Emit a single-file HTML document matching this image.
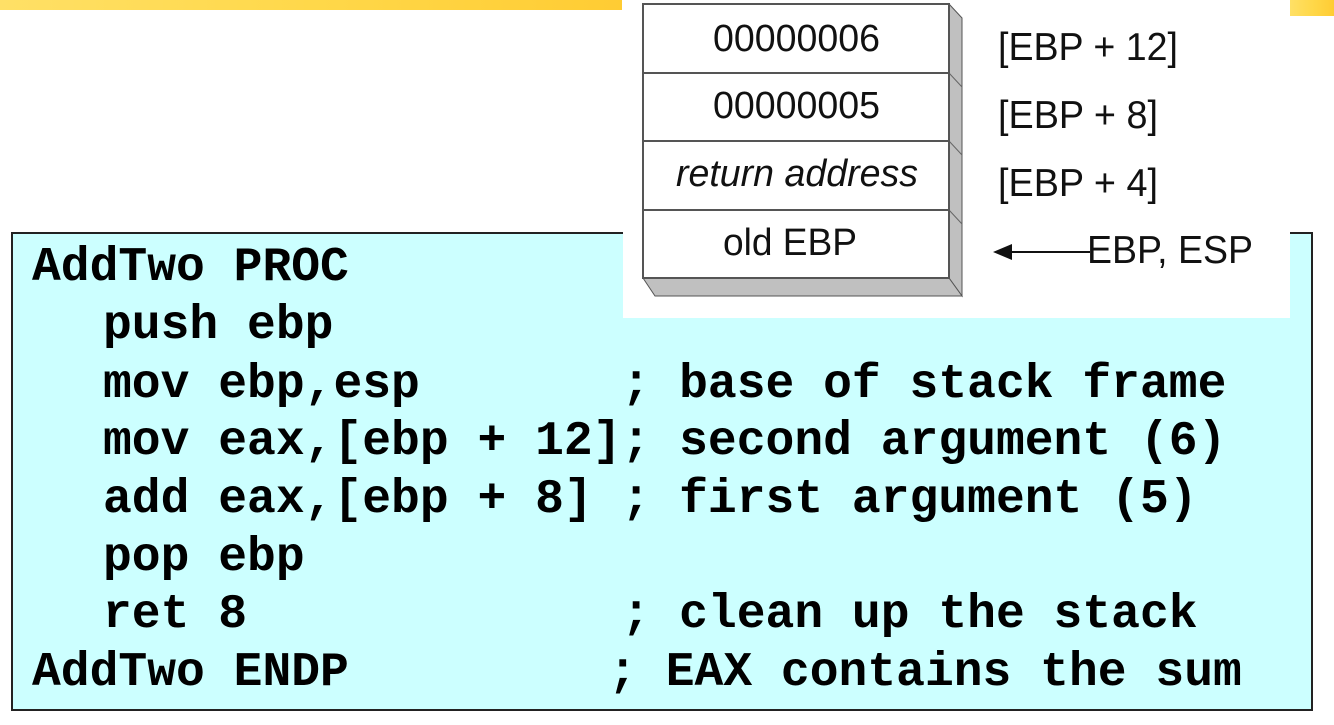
<!DOCTYPE html>
<html><head><meta charset="utf-8">
<style>
html,body{margin:0;padding:0;background:#fff;}
body{width:1334px;height:725px;position:relative;overflow:hidden;}
.ban{position:absolute;top:0;height:14px;background:linear-gradient(90deg,#ffe066,#ffd84a 50%,#ffcc33);}
#code{position:absolute;left:11px;top:232px;width:1302px;height:479px;background:#ccffff;border:2px solid #222;box-sizing:border-box;}
.l{position:absolute;font-family:"Liberation Mono",monospace;font-weight:bold;font-size:48px;line-height:48px;color:#000;white-space:pre;}
#panel{position:absolute;left:623px;top:0;width:667px;height:318px;background:#fff;}
</style></head><body>
<div class="ban" style="left:0;width:622px;height:10px"></div>
<div class="ban" style="left:1290px;width:44px;height:16px"></div>
<div id="code"></div>
<div class="l" style="left:32px;top:244px">AddTwo PROC</div>
<div class="l" style="left:103px;top:302px">push ebp</div>
<div class="l" style="left:103px;top:361px">mov ebp,esp       ; base of stack frame</div>
<div class="l" style="left:103px;top:418px">mov eax,[ebp + 12]; second argument (6)</div>
<div class="l" style="left:103px;top:476px">add eax,[ebp + 8] ; first argument (5)</div>
<div class="l" style="left:103px;top:534px">pop ebp</div>
<div class="l" style="left:103px;top:591px">ret 8             ; clean up the stack</div>
<div class="l" style="left:32px;top:649px">AddTwo ENDP         ; EAX contains the sum</div>
<div id="panel">
<svg width="667" height="318" viewBox="623 0 667 318" xmlns="http://www.w3.org/2000/svg" style="position:absolute;left:0;top:0">
<polygon points="949,4 962,18 962,296 949,278" fill="#c0c0c0" stroke="#555" stroke-width="1"/>
<polygon points="643,278 949,278 962,296 655,296" fill="#c0c0c0" stroke="#555" stroke-width="1"/>
<g stroke="#666" stroke-width="1"><line x1="949" y1="73" x2="962" y2="87"/><line x1="949" y1="141" x2="962" y2="155"/><line x1="949" y1="210" x2="962" y2="224"/></g>
<rect x="643" y="4" width="306" height="274" fill="#fff" stroke="#555" stroke-width="2"/>
<g stroke="#555" stroke-width="2"><line x1="643" y1="73" x2="949" y2="73"/><line x1="643" y1="141" x2="949" y2="141"/><line x1="643" y1="210" x2="949" y2="210"/></g>
<g font-family="Liberation Sans, sans-serif" font-size="38" fill="#111" lengthAdjust="spacingAndGlyphs">
<text x="713" y="51" textLength="167" lengthAdjust="spacingAndGlyphs">00000006</text>
<text x="713" y="118" textLength="167" lengthAdjust="spacingAndGlyphs">00000005</text>
<text x="676" y="186" font-style="italic" textLength="242" lengthAdjust="spacingAndGlyphs">return address</text>
<text x="723" y="255" textLength="134" lengthAdjust="spacingAndGlyphs">old EBP</text>
</g>
<g font-family="Liberation Sans, sans-serif" font-size="39" fill="#111">
<text x="998" y="60" textLength="180" lengthAdjust="spacingAndGlyphs">[EBP + 12]</text>
<text x="998" y="128" textLength="160" lengthAdjust="spacingAndGlyphs">[EBP + 8]</text>
<text x="998" y="196" textLength="160" lengthAdjust="spacingAndGlyphs">[EBP + 4]</text>
<text x="1087" y="263" textLength="166" lengthAdjust="spacingAndGlyphs">EBP, ESP</text>
</g>
<line x1="1005" y1="252" x2="1090" y2="252" stroke="#111" stroke-width="2"/>
<polygon points="993,252 1012,244 1012,260" fill="#111"/>
</svg>
</div>
<div style="position:absolute;left:1311px;top:232px;width:2px;height:86px;background:#222"></div>
</body></html>
